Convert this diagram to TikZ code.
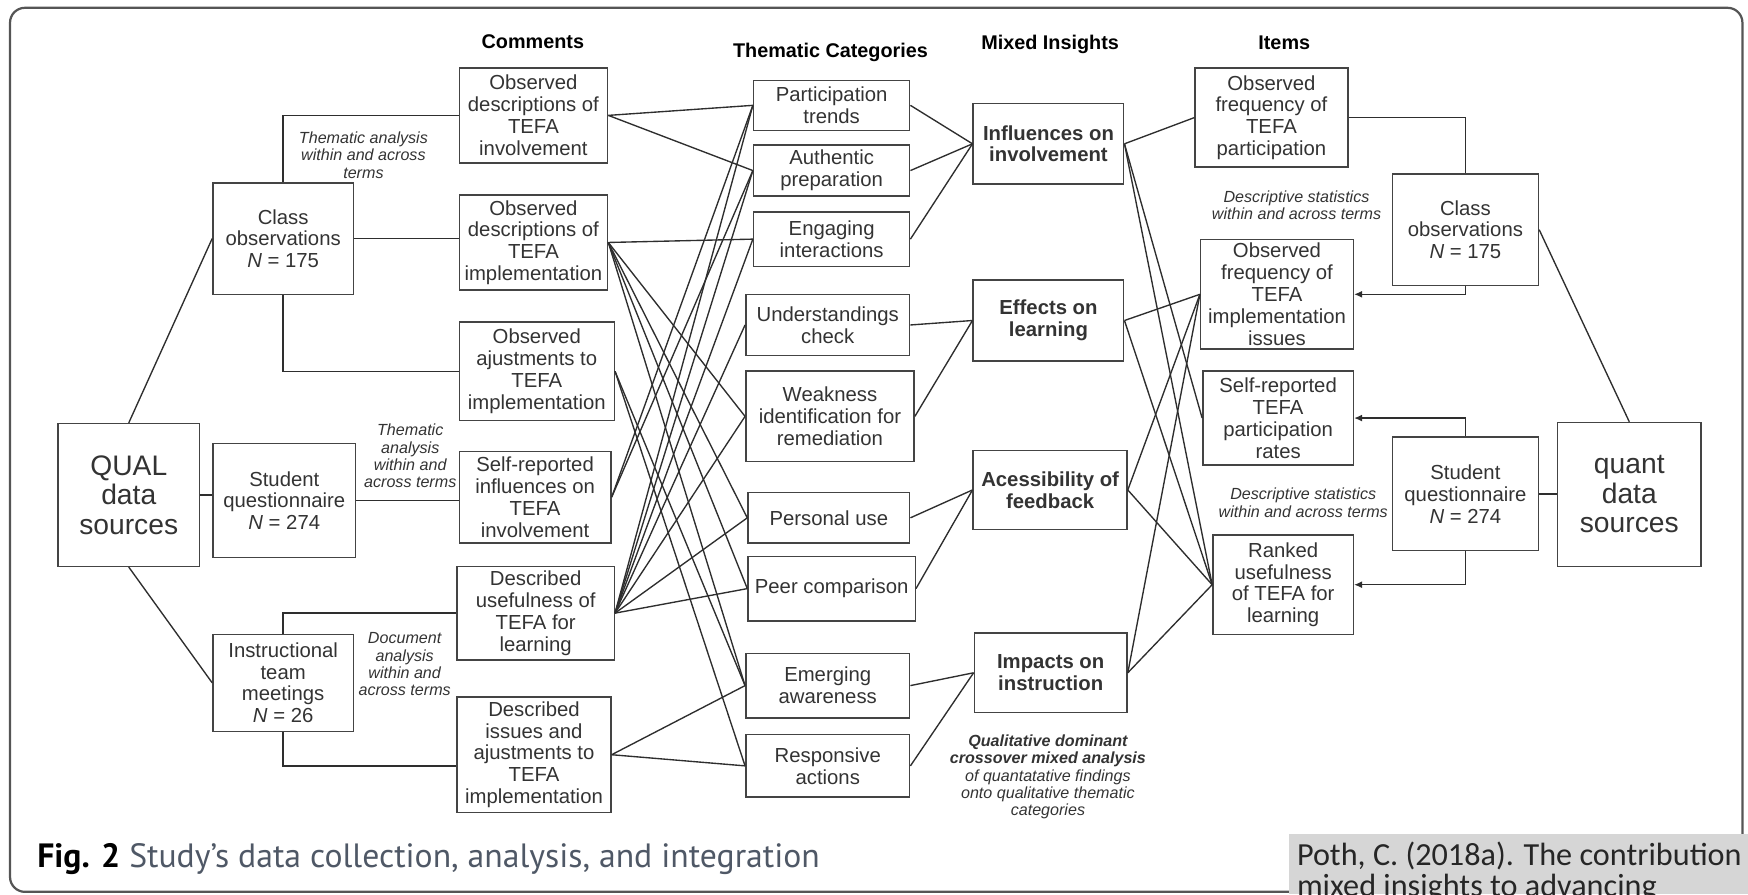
\documentclass[tikz,border=0pt]{standalone}
\usepackage{fontspec}
\setmainfont{Liberation Sans}
\newfontfamily\capfont{PT Sans}
\newfontfamily\pothfont{Carlito}
\usetikzlibrary{arrows.meta}
\definecolor{boxc}{HTML}{444444}
\definecolor{linec}{HTML}{2E2E2E}
\definecolor{txtc}{HTML}{333333}
\definecolor{capc}{HTML}{4F5866}
\definecolor{pothbg}{HTML}{D6D6D6}
\definecolor{framec}{HTML}{555555}
% box from its corners: [style]{name}{x1}{y1}{x2}{y2}{text}
\newcommand\mkbox[7][]{\node[box,#1,minimum width={(#5-#3)*0.45pt},minimum height={(#6-#4)*0.45pt}] (#2) at ({(#3+#5)/2},{(#4+#6)/2}) {#7};}
\begin{document}
\begin{tikzpicture}[x=0.45pt,y=-0.45pt,
  box/.style={draw=boxc,line width=0.6pt,inner sep=0pt,align=center,text=txtc,
    font=\fontsize{8.2}{8.8}\selectfont},
  bigbox/.style={font=\fontsize{11.4}{11.9}\selectfont},
  mixbox/.style={font=\bfseries\fontsize{8.2}{8.8}\selectfont},
  note/.style={align=center,inner sep=0pt,text=txtc,font=\itshape\fontsize{6.5}{7}\selectfont},
  head/.style={inner sep=0pt,text=black,font=\bfseries\fontsize{8}{9}\selectfont},
  link/.style={draw=linec,line width=0.55pt},
  arr/.style={link,-{Latex[length=3.2pt,width=2.8pt]}},
  frame/.style={draw=framec,line width=0.9pt,rounded corners=6pt}]
\useasboundingbox (0,0) rectangle (1568,802);
\clip (0,0) rectangle (1568,802);

% outer frame
\draw[frame] (9,7) rectangle (1563,800);

% column headings
\node[head] (h1) at (478,37) {Comments};
\node[head] (h2) at (745,47) {Thematic Categories};
\node[head] (h3) at (942,40) {Mixed Insights};
\node[head] (h4) at (1152,38) {Items};

% qualitative sources
\mkbox[bigbox]{qual}{52}{380}{179}{508}{QUAL\\data\\sources}
\mkbox{lclass}{191}{164}{317}{264}{Class\\observations\\\textit{N} = 175}
\mkbox{lstud}{191}{398}{319}{500}{Student\\questionnaire\\\textit{N} = 274}
\mkbox{linst}{191}{569}{317}{656}{Instructional\\team\\meetings\\\textit{N} = 26}

% comments
\mkbox{obsinv}{412}{61}{545}{146}{Observed\\descriptions of\\TEFA\\involvement}
\mkbox{obsimp}{412}{175}{545}{260}{Observed\\descriptions of\\TEFA\\implementation}
\mkbox{obsadj}{412}{289}{551}{377}{Observed\\ajustments to\\TEFA\\implementation}
\mkbox{selfinf}{412}{405}{548}{487}{Self-reported\\influences on\\TEFA\\involvement}
\mkbox{descuse}{410}{508}{551}{592}{Described\\usefulness of\\TEFA for\\learning}
\mkbox{desciss}{410}{625}{548}{729}{Described\\issues and\\ajustments to\\TEFA\\implementation}

% thematic categories
\mkbox{pt}{676}{72}{816}{117}{Participation\\trends}
\mkbox{ap}{676}{130}{816}{176}{Authentic\\preparation}
\mkbox{ei}{676}{190}{816}{239}{Engaging\\interactions}
\mkbox{uc}{669}{264}{816}{319}{Understandings\\check}
\mkbox{wi}{669}{333}{820}{414}{Weakness\\identification for\\remediation}
\mkbox{pu}{671}{442}{816}{487}{Personal use}
\mkbox{pc}{671}{499}{821}{557}{Peer comparison}
\mkbox{ea}{669}{586}{816}{644}{Emerging\\awareness}
\mkbox{ra}{669}{659}{816}{715}{Responsive\\actions}

% mixed insights
\mkbox[mixbox]{inf}{873}{93}{1008}{165}{Influences on\\involvement}
\mkbox[mixbox]{eff}{873}{251}{1008}{324}{Effects on\\learning}
\mkbox[mixbox]{acc}{873}{404}{1011}{475}{Acessibility of\\feedback}
\mkbox[mixbox]{imp}{874}{568}{1011}{639}{Impacts on\\instruction}

% items
\mkbox{opart}{1072}{61}{1209}{150}{Observed\\frequency of\\TEFA\\participation}
\mkbox{oimp}{1077}{215}{1214}{313}{Observed\\frequency of\\TEFA\\implementation\\issues}
\mkbox{srep}{1079}{333}{1214}{417}{Self-reported\\TEFA\\participation\\rates}
\mkbox{rank}{1088}{480}{1214}{569}{Ranked\\usefulness\\of TEFA for\\learning}

% quantitative sources
\mkbox{rclass}{1249}{156}{1380}{256}{Class\\observations\\\textit{N} = 175}
\mkbox{rstud}{1249}{392}{1380}{494}{Student\\questionnaire\\\textit{N} = 274}
\mkbox[bigbox]{quant}{1397}{379}{1526}{508}{quant\\data\\sources}

% analysis notes
\node[note] (n1) at (326,139) {Thematic analysis\\within and across\\terms};
\node[note] (n2) at (368,409) {Thematic\\analysis\\within and\\across terms};
\node[note] (n3) at (363,596) {Document\\analysis\\within and\\across terms};
\node[note] (n4) at (1163,184) {Descriptive statistics\\within and across terms};
\node[note] (n5) at (1169,451) {Descriptive statistics\\within and across terms};
\node[note] (n6) at (940,697) {\textbf{Qualitative dominant}\\\textbf{crossover mixed analysis}\\of quantatative findings\\onto qualitative thematic\\categories};

% qualitative sources to comments
\draw[link] (qual.north) -- (lclass.west);
\draw[link] (qual.east) -- (qual.east -| lstud.west);
\draw[link] (qual.south) -- (linst.west);
\draw[link] (lclass.north) |- (obsinv.west);
\draw[link] (lclass.east) -- (lclass.east -| obsimp.west);
\draw[link] (lclass.south) |- (obsadj.west);
\draw[link] (lstud.east) -- (lstud.east -| selfinf.west);
\draw[link] (linst.north) |- (descuse.west);
\draw[link] (linst.south) |- ([yshift=-4.5pt]desciss.west);

% comments to thematic categories
\foreach \t in {pt,ap} \draw[link] (obsinv.east) -- (\t.west);
\foreach \t in {ei,wi,pu,pc,ea} \draw[link] (obsimp.east) -- (\t.west);
\foreach \t in {ea,ra} \draw[link] (obsadj.east) -- (\t.west);
\foreach \t in {pt,ap} \draw[link] (selfinf.east) -- (\t.west);
\foreach \t in {pt,ap,ei,uc,wi,pu,pc} \draw[link] (descuse.east) -- (\t.west);
\foreach \t in {ea,ra} \draw[link] (desciss.east) -- (\t.west);

% thematic categories to mixed insights
\foreach \t in {pt,ap,ei} \draw[link] (\t.east) -- (inf.west);
\foreach \t in {uc,wi} \draw[link] (\t.east) -- (eff.west);
\foreach \t in {pu,pc} \draw[link] (\t.east) -- (acc.west);
\foreach \t in {ea,ra} \draw[link] (\t.east) -- (imp.west);

% mixed insights to items
\foreach \t in {opart,srep,rank} \draw[link] (inf.east) -- (\t.west);
\foreach \s in {eff,acc,imp} {
  \draw[link] (\s.east) -- (oimp.west);
  \draw[link] (\s.east) -- (rank.west);
}

% quantitative sources to items
\draw[link] (rclass.north) |- (opart.east);
\draw[arr] (rclass.south) |- (oimp.east);
\draw[link] (rclass.east) -- (quant.north);
\draw[arr] (rstud.north) |- (srep.east);
\draw[arr] (rstud.south) |- (rank.east);
\draw[link] (rstud.east) -- (rstud.east -| quant.west);

% caption
\node[anchor=base west,inner sep=0pt,text=capc,font=\capfont\fontsize{13.6}{15}\selectfont] (cap) at (33,778)
  {\textcolor{black}{\textbf{Fig. 2}} Study’s data collection, analysis, and integration};

% reference strip
\fill[pothbg] (1156,748) rectangle (1568,802);
\node[anchor=base west,inner sep=0pt,text=black!85,font=\pothfont\fontsize{13}{13}\selectfont] (poth1) at (1163,776)
  {Poth, C. (2018a). The contribution};
\node[anchor=base west,inner sep=0pt,text=black!85,font=\pothfont\fontsize{13}{13}\selectfont] (poth2) at (1163,804)
  {mixed insights to advancing};
\end{tikzpicture}
\end{document}
